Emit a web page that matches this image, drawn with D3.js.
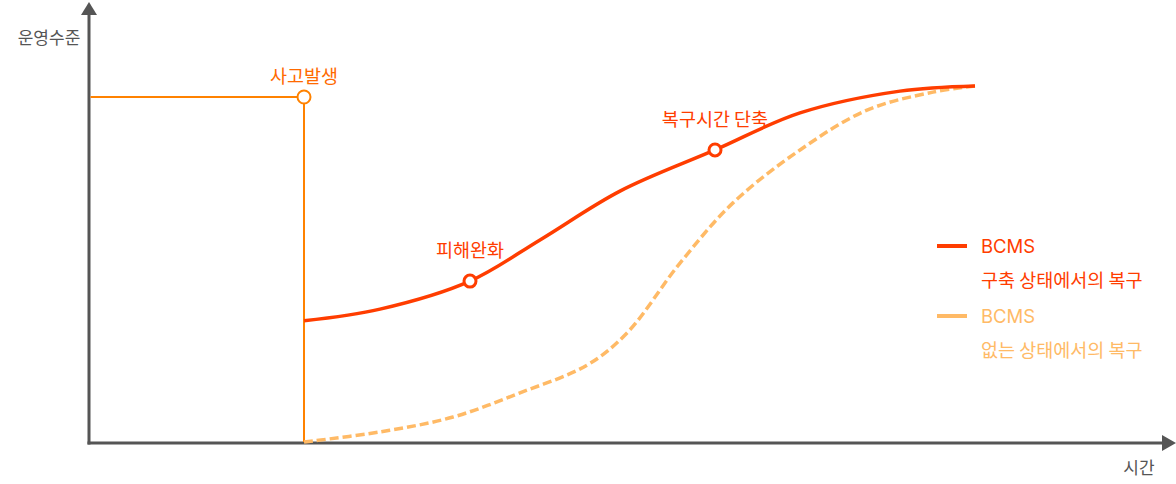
<!DOCTYPE html>
<html>
<head>
<meta charset="utf-8">
<script src="https://cdn.jsdelivr.net/npm/d3@7"></script>
<style>
html,body{margin:0;padding:0;background:#fff;}
svg{display:block;font-family:"Noto Sans CJK KR","Noto Sans",sans-serif;}
</style>
</head>
<body>
<svg id="chart" width="1176" height="484"></svg>
<script>
// ---- data ----
const withBcmsTime  = [21.5, 29.1, 38.1, 45.1, 53.1, 62.6, 71.1, 81.1, 88.6];
const withBcmsLevel = [35.3, 38.7, 46.8, 58.7, 72.8, 84.7, 95.4, 101.7, 103.2];
const noBcmsTime  = [21.5, 29.1, 36.4, 43.1, 49.8, 53.8, 59.1, 64.4, 71.1, 77.8, 84.4, 88.6];
const noBcmsLevel = [0.3, 3.2, 7.5, 14.5, 22.5, 31.8, 52.0, 69.4, 84.7, 96.2, 101.4, 103.2];
const incidentTime = 21.5;
const normalLevel = 100;
const markerNames = ["피해완화", "복구시간 단축"];
const markerTime  = [38.1, 62.6];
const markerLevel = [46.8, 84.7];
const incidentLabel = "사고발생";
const yAxisLabel = "운영수준";
const xAxisLabel = "시간";
const legendTitles = ["BCMS", "BCMS"];
const legendSubs = ["구축 상태에서의 복구", "없는 상태에서의 복구"];

// ---- styles ----
const RED = "#FF3D00", ORANGE = "#FF8200", LIGHT = "#FFBA66", AXIS = "#555555";

const svg = d3.select("#chart");
const x = d3.scaleLinear().domain([0, 100]).range([89, 1089]);
const y = d3.scaleLinear().domain([0, 100]).range([443, 97]);

// axes
const x0 = x(0), y0 = y(0);
svg.append("line").attr("x1", x0).attr("x2", x0).attr("y1", y0 + 1.5).attr("y2", 14)
  .attr("stroke", AXIS).attr("stroke-width", 3);
svg.append("path").attr("d", `M${x0},2 L${x0 - 8},15 L${x0 + 8},15 Z`).attr("fill", AXIS);
svg.append("line").attr("x1", x0 - 1.5).attr("x2", 1163).attr("y1", y0).attr("y2", y0)
  .attr("stroke", AXIS).attr("stroke-width", 3);
svg.append("path").attr("d", `M1176,${y0} L1162,${y0 - 8} L1162,${y0 + 8} Z`).attr("fill", AXIS);

svg.append("text").attr("x", 49).attr("y", 44).attr("text-anchor", "middle")
  .attr("font-size", 17).attr("fill", AXIS).text(yAxisLabel);
svg.append("text").attr("x", 1139).attr("y", 474).attr("text-anchor", "middle")
  .attr("font-size", 17).attr("fill", AXIS).text(xAxisLabel);

// incident step
const xi = x(incidentTime), yn = y(normalLevel);
svg.append("line").attr("x1", x0 + 1.5).attr("x2", xi).attr("y1", yn).attr("y2", yn)
  .attr("stroke", ORANGE).attr("stroke-width", 2);
svg.append("line").attr("x1", xi).attr("x2", xi).attr("y1", yn).attr("y2", y0 - 1)
  .attr("stroke", ORANGE).attr("stroke-width", 2);

// curves
const line = d3.line().x(d => x(d[0])).y(d => y(d[1])).curve(d3.curveCatmullRom.alpha(0.5));
const noData = noBcmsTime.map((t, i) => [t, noBcmsLevel[i]]);
const withData = withBcmsTime.map((t, i) => [t, withBcmsLevel[i]]);
svg.append("path").attr("d", line(noData)).attr("fill", "none")
  .attr("stroke", LIGHT).attr("stroke-width", 3.5).attr("stroke-dasharray", "9,4");
svg.append("path").attr("d", line(withData)).attr("fill", "none")
  .attr("stroke", RED).attr("stroke-width", 3.5);

// incident marker
svg.append("circle").attr("cx", xi).attr("cy", yn).attr("r", 6.5)
  .attr("fill", "#fff").attr("stroke", ORANGE).attr("stroke-width", 2);
svg.append("text").attr("x", xi).attr("y", yn - 14).attr("text-anchor", "middle")
  .attr("font-size", 18.5).attr("fill", "#FF6A00").text(incidentLabel);

// red markers
markerNames.forEach((n, i) => {
  const cx = x(markerTime[i]), cy = y(markerLevel[i]);
  svg.append("circle").attr("cx", cx).attr("cy", cy).attr("r", 6)
    .attr("fill", "#fff").attr("stroke", RED).attr("stroke-width", 3);
  svg.append("text").attr("x", cx).attr("y", cy - 24).attr("text-anchor", "middle")
    .attr("font-size", 18.5).attr("fill", RED).text(n);
});

// legend
const legColors = [RED, LIGHT];
const legY = [246, 316];
legColors.forEach((c, i) => {
  svg.append("line").attr("x1", 937).attr("x2", 967).attr("y1", legY[i]).attr("y2", legY[i])
    .attr("stroke", c).attr("stroke-width", 4);
  svg.append("text").attr("x", 981).attr("y", legY[i] + 7).attr("font-size", 18.5)
    .attr("font-family", "Inter, 'Noto Sans', sans-serif").attr("fill", c).text(legendTitles[i]);
  svg.append("text").attr("x", 981).attr("y", legY[i] + 41).attr("font-size", 18.5)
    .attr("fill", c).text(legendSubs[i]);
});
</script>
</body>
</html>
